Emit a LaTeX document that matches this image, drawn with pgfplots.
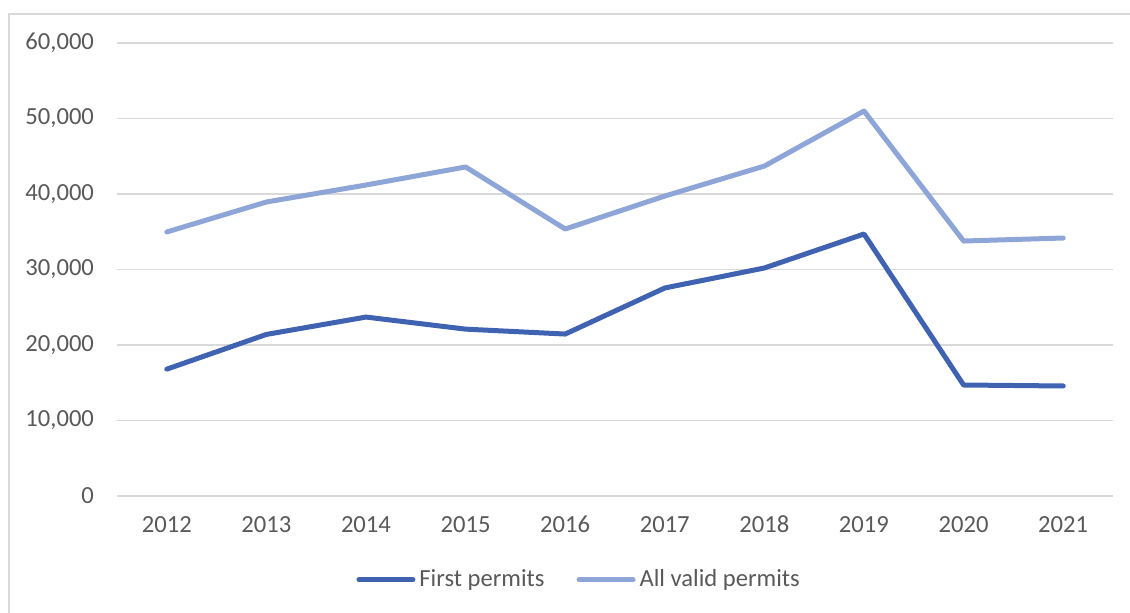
\documentclass[border=0pt]{standalone}
\usepackage{pgfplots}
\pgfplotsset{compat=1.18}
\usepackage{fontspec}
\setmainfont{Carlito}
\definecolor{firstc}{HTML}{3F63B0}
\definecolor{validc}{HTML}{8EA5D8}
\definecolor{txt}{HTML}{595959}
\definecolor{gridc}{HTML}{D9D9D9}

\begin{document}
\begin{tikzpicture}
% canvas: 1 px of the reference = 0.5pt
\path[use as bounding box] (0,0) rectangle (565pt,306.5pt);
\draw[gridc, line width=0.75pt] (4.5pt,-20pt) rectangle (600pt,299.5pt);
\begin{axis}[
  at={(58.5pt,58.5pt)}, anchor=south west,
  scale only axis,
  width=498pt, height=226.5pt,
  font=\fontsize{12.3pt}{14pt}\selectfont,
  /pgf/number format/assume math mode=true,
  xmin=2011.5, xmax=2021.5,
  ymin=0, ymax=60000,
  xtick={2012,...,2021},
  ytick={0,10000,...,60000},
  xticklabel style={/pgf/number format/set thousands separator={}, yshift=-6.5pt},
  yticklabel style={/pgf/number format/1000 sep={,}, xshift=-8pt},
  scaled y ticks=false,
  ticklabel style={text=txt},
  axis line style={draw=none},
  x axis line style={draw=gridc, line width=0.75pt},
  tick style={draw=none},
  ymajorgrids=true,
  grid style={gridc, line width=0.75pt},
  legend columns=2,
  legend style={at={(0.465,-0.185)}, anchor=center, draw=none, fill=none,
    font=\fontsize{12.3pt}{14pt}\selectfont, text=txt,
    /tikz/every even column/.append style={column sep=14pt}},
  legend cell align=left,
  legend image code/.code={\draw[#1, line cap=round] (0pt,0pt) -- (27pt,0pt);},
]
\addplot[firstc, line width=2.5pt, line join=round, line cap=round] coordinates {
  (2012,16800) (2013,21400) (2014,23700) (2015,22100) (2016,21450)
  (2017,27550) (2018,30200) (2019,34700) (2020,14700) (2021,14570)
};
\addlegendentry{First permits}
\addplot[validc, line width=2.5pt, line join=round, line cap=round] coordinates {
  (2012,34970) (2013,38940) (2014,41190) (2015,43580) (2016,35360)
  (2017,39730) (2018,43700) (2019,50990) (2020,33770) (2021,34170)
};
\addlegendentry{All valid permits}
\end{axis}
\end{tikzpicture}
\end{document}
